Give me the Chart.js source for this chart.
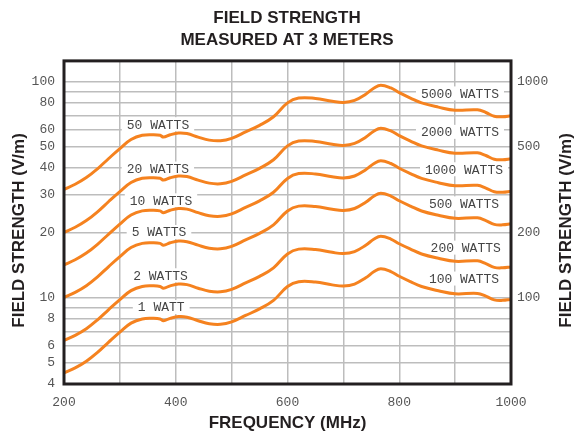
<!DOCTYPE html>
<html><head><meta charset="utf-8">
<script src="https://cdn.jsdelivr.net/npm/chart.js@4/dist/chart.umd.min.js"></script>
<style>html,body{margin:0;padding:0;background:#fff}#wrap{width:574px;height:437px;position:relative}</style>
</head><body><div id="wrap"><canvas id="c"></canvas></div>
<script>
// ---- data (frequency in MHz, field strength in V/m at 3 m) ----
const frequencies = [200,220,240,260,280,300,320,340,360,372,378,390,405,420,440,460,480,500,525,550,575,600,620,650,680,700,720,740,755,767,785,800,820,840,870,900,940,955,970,985,1000];
const watts1  = [4.5,4.75,5.1,5.6,6.25,6.95,7.65,8.0,8.05,8.0,7.85,8.05,8.2,8.15,7.85,7.6,7.55,7.75,8.3,8.9,9.75,11.3,11.9,11.85,11.5,11.35,11.6,12.4,13.25,13.65,13.25,12.6,11.9,11.3,10.8,10.45,10.5,10.2,9.8,9.75,9.85];
const watts2  = [6.36,6.72,7.21,7.92,8.84,9.83,10.82,11.31,11.38,11.31,11.1,11.38,11.6,11.53,11.1,10.75,10.68,10.96,11.74,12.59,13.79,15.98,16.83,16.76,16.26,16.05,16.4,17.54,18.74,19.3,18.74,17.82,16.83,15.98,15.27,14.78,14.85,14.42,13.86,13.79,13.93];
const watts5  = [10.06,10.62,11.4,12.52,13.98,15.54,17.11,17.89,18.0,17.89,17.55,18.0,18.34,18.22,17.55,16.99,16.88,17.33,18.56,19.9,21.8,25.27,26.61,26.5,25.72,25.38,25.94,27.73,29.63,30.52,29.63,28.17,26.61,25.27,24.15,23.37,23.48,22.81,21.91,21.8,22.03];
const watts10 = [14.23,15.02,16.13,17.71,19.76,21.98,24.19,25.3,25.46,25.3,24.82,25.46,25.93,25.77,24.82,24.03,23.88,24.51,26.25,28.14,30.83,35.73,37.63,37.47,36.37,35.89,36.68,39.21,41.9,43.17,41.9,39.84,37.63,35.73,34.15,33.05,33.2,32.26,30.99,30.83,31.15];
const watts20 = [20.12,21.24,22.81,25.04,27.95,31.08,34.21,35.78,36.0,35.78,35.11,36.0,36.67,36.45,35.11,33.99,33.76,34.66,37.12,39.8,43.6,50.53,53.22,52.99,51.43,50.76,51.88,55.45,59.26,61.04,59.26,56.35,53.22,50.53,48.3,46.73,46.96,45.62,43.83,43.6,44.05];
const watts50 = [31.82,33.59,36.06,39.6,44.19,49.14,54.09,56.57,56.92,56.57,55.51,56.92,57.98,57.63,55.51,53.74,53.39,54.8,58.69,62.93,68.94,79.9,84.14,83.79,81.32,80.26,82.02,87.68,93.69,96.52,93.69,89.1,84.14,79.9,76.37,73.89,74.25,72.13,69.3,68.94,69.65];

const leftSeriesNames  = ['1 WATT','2 WATTS','5 WATTS','10 WATTS','20 WATTS','50 WATTS'];
const rightSeriesNames = ['100 WATTS','200 WATTS','500 WATTS','1000 WATTS','2000 WATTS','5000 WATTS'];

const leftTickValues  = [4,5,6,7,8,9,10,20,30,40,50,60,70,80,90,100];
const leftTickLabels  = [4,5,6,8,10,20,30,40,50,60,80,100];
const rightTickValues = [100,200,500,1000];
const xTickValues     = [200,300,400,500,600,700,800,900,1000];
const xTickLabels     = [200,400,600,800,1000];

// label anchors (MHz, V/m) for the in-plot curve labels
const leftLabelFreq  = [374,372.7,370,373.6,368,368.2];
const leftLabelField = [9.08,12.74,20.2,28.3,39.7,63.7];
const rightLabelFreq  = [915.9,918.9,915.9,915.9,908.7,908.7];
const rightLabelField = [12.3,17.1,27.4,39.4,58.7,88.4];

const seriesValues = [watts1, watts2, watts5, watts10, watts20, watts50];

const ORANGE = '#F5821F';
const DARK = '#231f20';
const GRID = '#bdbdbd';
const MONO = '"Liberation Mono", "Courier New", monospace';
const SANS = '"Liberation Sans", Arial, sans-serif';

const datasets = seriesValues.map((vals, i) => ({
  label: leftSeriesNames[i] + ' / ' + rightSeriesNames[i],
  data: frequencies.map((f, k) => ({x: f, y: vals[k]})),
  borderColor: ORANGE,
  borderWidth: 3,
  pointRadius: 0,
  fill: false,
  tension: 0.4,
  yAxisID: 'y'
}));

const decor = {
  id: 'decor',
  beforeDatasetsDraw(chart) {
    const {ctx, scales: {x, y}} = chart;
    ctx.save();
    ctx.font = '13px ' + MONO;
    ctx.textAlign = 'center';
    ctx.textBaseline = 'middle';
    const draw = (text, f, v) => {
      const px = x.getPixelForValue(f), py = y.getPixelForValue(v);
      const w = ctx.measureText(text).width;
      ctx.fillStyle = '#fff';
      ctx.fillRect(px - w / 2 - 5, py - 7, w + 10, 14);
      ctx.fillStyle = '#444';
      ctx.fillText(text, px, py + 1);
    };
    leftSeriesNames.forEach((t, i) => draw(t, leftLabelFreq[i], leftLabelField[i]));
    rightSeriesNames.forEach((t, i) => draw(t, rightLabelFreq[i], rightLabelField[i]));
    ctx.restore();
  },
  afterDraw(chart) {
    const {ctx, chartArea: a, width} = chart;
    ctx.save();
    ctx.strokeStyle = DARK;
    ctx.lineWidth = 3;
    ctx.strokeRect(a.left, a.top, a.right - a.left, a.bottom - a.top);
    ctx.font = 'bold 17px ' + SANS;
    ctx.fillStyle = DARK;
    ctx.textAlign = 'center';
    ctx.textBaseline = 'middle';
    const cy = (a.top + a.bottom) / 2 + 8;
    [[19, cy], [width - 8, cy]].forEach(([tx, ty]) => {
      ctx.save();
      ctx.translate(tx, ty);
      ctx.rotate(-Math.PI / 2);
      ctx.fillText('FIELD STRENGTH (V/m)', 0, 0);
      ctx.restore();
    });
    ctx.restore();
  }
};

new Chart(document.getElementById('c'), {
  type: 'line',
  data: {datasets},
  plugins: [decor],
  options: {
    responsive: true,
    maintainAspectRatio: false,
    animation: false,
    devicePixelRatio: 1,
    layout: {padding: 0},
    plugins: {
      legend: {display: false},
      tooltip: {enabled: false},
      title: {
        display: true,
        text: ['FIELD STRENGTH', 'MEASURED AT 3 METERS'],
        color: DARK,
        font: {family: SANS, size: 17, weight: 'bold', lineHeight: 1.276},
        padding: {top: 7.5, bottom: 10}
      }
    },
    scales: {
      x: {
        type: 'linear',
        min: 200, max: 1000,
        afterBuildTicks: s => { s.ticks = xTickValues.map(v => ({value: v})); },
        afterFit: s => { s.height = 53; },
        grid: {color: GRID, lineWidth: 1.5, drawTicks: false},
        border: {display: false},
        ticks: {
          padding: 11,
          color: '#555',
          font: {family: MONO, size: 13},
          maxRotation: 0,
          autoSkip: false,
          callback: v => xTickLabels.includes(v) ? String(v) : ''
        },
        title: {
          display: true,
          text: 'FREQUENCY (MHz)',
          color: DARK,
          font: {family: SANS, size: 17, weight: 'bold'},
          padding: {top: 0, bottom: 3}
        }
      },
      y: {
        type: 'logarithmic',
        position: 'left',
        min: 4, max: 125,
        afterBuildTicks: s => { s.ticks = leftTickValues.map(v => ({value: v})); },
        afterFit: s => { s.width = 64; },
        grid: {color: GRID, lineWidth: 1.5, drawTicks: false},
        border: {display: false},
        ticks: {
          padding: 9,
          color: '#555',
          font: {family: MONO, size: 13},
          autoSkip: false,
          callback: v => leftTickLabels.includes(v) ? String(v) : ''
        }
      },
      y2: {
        type: 'logarithmic',
        position: 'right',
        min: 40, max: 1250,
        afterBuildTicks: s => { s.ticks = rightTickValues.map(v => ({value: v})); },
        afterFit: s => { s.width = 63; },
        grid: {display: false, drawTicks: false},
        border: {display: false},
        ticks: {
          padding: 6,
          color: '#555',
          font: {family: MONO, size: 13},
          autoSkip: false,
          callback: v => String(v)
        }
      }
    }
  }
});
</script>
</body></html>
